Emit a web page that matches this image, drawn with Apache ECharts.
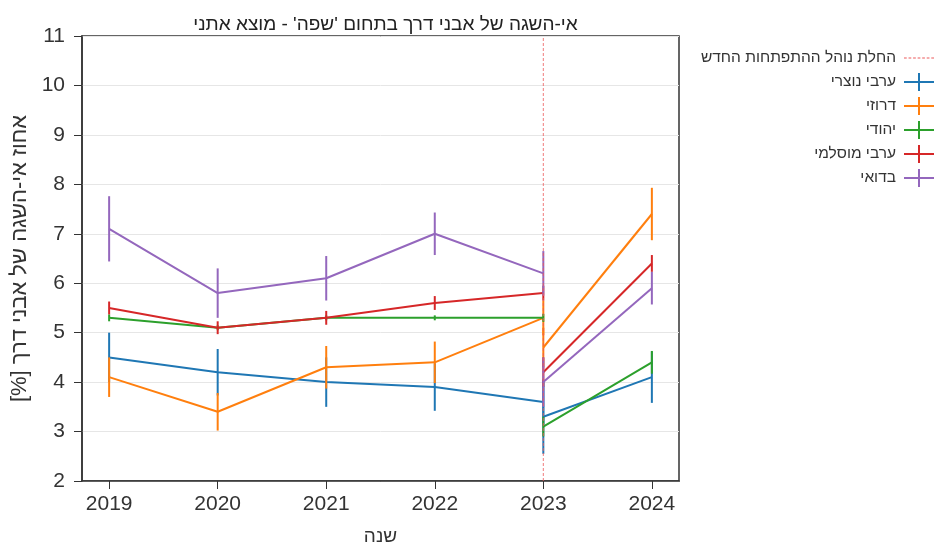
<!DOCTYPE html>
<html>
<head>
<meta charset="utf-8">
<script src="https://cdn.jsdelivr.net/npm/echarts@6/dist/echarts.min.js"></script>
<style>
html,body{margin:0;padding:0;background:#fff;}
#chart{width:940px;height:544px;}
</style>
</head>
<body>
<div id="chart"></div>
<script>
// ---- data ----
const yearsBefore = [2019, 2020, 2021, 2022, 2023];
const yearsAfter = [2023, 2024];
const xTicks = [2019, 2020, 2021, 2022, 2023, 2024];
const policyYear = 2023;

const groupNames = ['ערבי נוצרי', 'דרוזי', 'יהודי', 'ערבי מוסלמי', 'בדואי'];
const policyName = 'החלת נוהל ההתפתחות החדש';

const christianBefore = [4.5, 4.2, 4.0, 3.9, 3.6];
const christianBeforeErr = [0.5, 0.47, 0.5, 0.48, 0.45];
const christianAfter = [3.3, 4.1];
const christianAfterErr = [0.75, 0.52];

const druzeBefore = [4.1, 3.4, 4.3, 4.4, 5.3];
const druzeBeforeErr = [0.4, 0.38, 0.43, 0.42, 0.35];
const druzeAfter = [4.7, 7.4];
const druzeAfterErr = [0.4, 0.53];

const jewishBefore = [5.3, 5.1, 5.3, 5.3, 5.3];
const jewishBeforeErr = [0.07, 0.05, 0.05, 0.05, 0.08];
const jewishAfter = [3.1, 4.4];
const jewishAfterErr = [0.2, 0.23];

const muslimBefore = [5.5, 5.1, 5.3, 5.6, 5.8];
const muslimBeforeErr = [0.13, 0.13, 0.14, 0.14, 0.15];
const muslimAfter = [4.2, 6.4];
const muslimAfterErr = [0.3, 0.17];

const bedouinBefore = [7.1, 5.8, 6.1, 7.0, 6.2];
const bedouinBeforeErr = [0.66, 0.5, 0.45, 0.43, 0.45];
const bedouinAfter = [4.0, 5.9];
const bedouinAfterErr = [0.5, 0.33];

const colors = ['#1f77b4', '#ff7f0e', '#2ca02c', '#d62728', '#9467bd'];
const groups = [
  [christianBefore, christianBeforeErr, christianAfter, christianAfterErr],
  [druzeBefore, druzeBeforeErr, druzeAfter, druzeAfterErr],
  [jewishBefore, jewishBeforeErr, jewishAfter, jewishAfterErr],
  [muslimBefore, muslimBeforeErr, muslimAfter, muslimAfterErr],
  [bedouinBefore, bedouinBeforeErr, bedouinAfter, bedouinAfterErr]
];

const FONT = "'Liberation Sans', Arial, sans-serif";

function pairs(xs, ys) { return xs.map((x, i) => [x, ys[i]]); }
function errData(xs, ys, es) { return xs.map((x, i) => [x, ys[i] - es[i], ys[i] + es[i]]); }

const series = [];
groups.forEach((g, k) => {
  const [bv, be, av, ae] = g;
  const c = colors[k];
  const lineBase = {
    type: 'line', name: groupNames[k], symbol: 'none', color: c,
    lineStyle: { color: c, width: 2 }, itemStyle: { color: c }, z: 3 + k
  };
  series.push(Object.assign({}, lineBase, { data: pairs(yearsBefore, bv) }));
  series.push(Object.assign({}, lineBase, { data: pairs(yearsAfter, av) }));
  const errSeries = {
    type: 'custom', name: groupNames[k], color: c, itemStyle: { color: c }, z: 3 + k,
    encode: { x: 0, y: [1, 2] },
    renderItem: function (params, api) {
      const x = api.value(0);
      const p1 = api.coord([x, api.value(1)]);
      const p2 = api.coord([x, api.value(2)]);
      return { type: 'line', shape: { x1: p1[0], y1: p1[1], x2: p2[0], y2: p2[1] },
               style: { stroke: c, lineWidth: 2 } };
    }
  };
  series.push(Object.assign({}, errSeries, { data: errData(yearsBefore, bv, be) }));
  series.push(Object.assign({}, errSeries, { data: errData(yearsAfter, av, ae) }));
});

series.push({
  type: 'line', name: policyName, symbol: 'none', color: '#ec5a5c', z: 10,
  itemStyle: { color: '#ec5a5c' },
  lineStyle: { color: '#ec5a5c', width: 0.8, type: [3, 2] },
  data: [[policyYear, 2], [policyYear, 11]]
});

const chart = echarts.init(document.getElementById('chart'), null, { renderer: 'canvas' });
chart.setOption({
  animation: false,
  backgroundColor: '#fff',
  title: {
    text: "אי-השגה של אבני דרך בתחום 'שפה' - מוצא אתני",
    left: 380.5, textAlign: 'center', top: 10,
    textStyle: { fontFamily: FONT, fontSize: 19, fontWeight: 'normal', color: '#222' }
  },
  grid: { left: 82, right: 261, top: 36, bottom: 63, show: true, borderColor: '#333', borderWidth: 1.5,
          backgroundColor: 'transparent', containLabel: false, outerBoundsMode: 'none' },
  legend: [
    {
      data: [policyName], orient: 'vertical', right: 1, top: 45, align: 'right',
      itemWidth: 30, itemHeight: 1,
      icon: 'path://M0,0h3v1h-3z M5,0h3v1h-3z M10,0h3v1h-3z M15,0h3v1h-3z M20,0h3v1h-3z M25,0h3v1h-3z M30,0h3v1h-3z',
      selectedMode: false,
      textStyle: { fontFamily: FONT, fontSize: 15.5, color: '#333', padding: [0, 3, 0, 0] }
    },
    {
      data: groupNames, orient: 'vertical', right: 1, top: 68, align: 'right',
      itemWidth: 30, itemHeight: 18, itemGap: 6,
      icon: 'path://M0,8h30v2h-30z M14,0h2v18h-2z',
      selectedMode: false,
      textStyle: { fontFamily: FONT, fontSize: 15.5, color: '#333', padding: [0, 3, 0, 0] }
    }
  ],
  xAxis: {
    type: 'value', min: 2018.75, max: 2024.25,
    name: 'שנה', nameLocation: 'middle', nameGap: 46,
    nameTextStyle: { fontFamily: FONT, fontSize: 19, color: '#333' },
    axisLine: { show: true, lineStyle: { color: '#333', width: 1.5 } },
    axisTick: { show: true, length: 8, lineStyle: { color: '#333' }, customValues: xTicks },
    axisLabel: { fontFamily: FONT, fontSize: 21, color: '#333', margin: 13, customValues: xTicks,
                 formatter: v => String(v) },
    splitLine: { show: false }
  },
  yAxis: {
    type: 'value', min: 2, max: 11, interval: 1,
    name: 'אחוז אי-השגה של אבני דרך [%]\u200F', nameLocation: 'middle', nameGap: 49, nameRotate: 90,
    nameTextStyle: { fontFamily: FONT, fontSize: 22, color: '#333' },
    axisLine: { show: true, lineStyle: { color: '#333', width: 1.5 } },
    axisTick: { show: true, length: 8, lineStyle: { color: '#333' } },
    axisLabel: { fontFamily: FONT, fontSize: 21, color: '#333', margin: 17 },
    splitLine: { show: true, lineStyle: { color: '#e6e6e6', width: 1 } }
  },
  series: series
});
</script>
</body>
</html>
